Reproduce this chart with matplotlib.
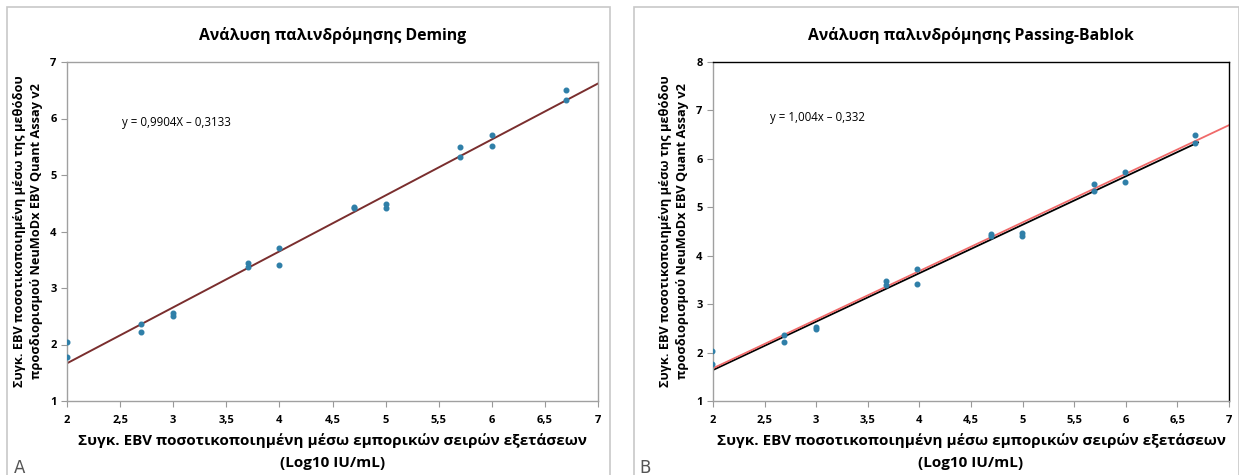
import matplotlib.pyplot as plt
import matplotlib.patches as mpatches
import numpy as np

plt.rcParams["font.family"] = ["Open Sans", "DejaVu Sans"]

# commercial assay (Log10 IU/mL) vs NeuMoDx, replicate pairs
x_a = [2.0, 2.0, 2.7, 2.7, 3.0, 3.0, 3.7, 3.7, 4.0, 4.0,
       4.7, 4.7, 5.0, 5.0, 5.7, 5.7, 6.0, 6.0, 6.7, 6.7]
y_a = [2.04, 1.77, 2.37, 2.22, 2.55, 2.50, 3.44, 3.38, 3.71, 3.40,
       4.44, 4.41, 4.48, 4.42, 5.49, 5.31, 5.71, 5.51, 6.50, 6.32]

x_b = [1.99, 1.99, 2.69, 2.69, 3.0, 3.0, 3.68, 3.68, 3.98, 3.98,
       4.69, 4.69, 4.99, 4.99, 5.69, 5.69, 5.99, 5.99, 6.67, 6.67]
y_b = [2.03, 1.77, 2.37, 2.22, 2.53, 2.49, 3.47, 3.40, 3.73, 3.42,
       4.44, 4.40, 4.47, 4.40, 5.49, 5.33, 5.72, 5.52, 6.50, 6.32]

deming = (0.9904, -0.3133)
pb = (1.004, -0.332)
ref_b = (1.0, -0.36)

x_ticks = [2, 2.5, 3, 3.5, 4, 4.5, 5, 5.5, 6, 6.5, 7]
x_ticklabels = ["2", "2,5", "3", "3,5", "4", "4,5", "5", "5,5", "6", "6,5", "7"]

ylabel = "Συγκ. EBV ποσοτικοποιημένη μέσω της μεθόδου\nπροσδιορισμού NeuMoDx EBV Quant Assay v2"
xlabel = "Συγκ. EBV ποσοτικοποιημένη μέσω εμπορικών σειρών εξετάσεων\n(Log10 IU/mL)"

fig = plt.figure(figsize=(12.39, 4.75), dpi=100)

# panel frames
for x0, w in [(0.006, 0.486), (0.512, 0.488)]:
    fig.patches.append(mpatches.Rectangle((x0, -0.01), w, 0.995, transform=fig.transFigure,
                                          fill=False, edgecolor="#c8c8c8", lw=1.2))

axA = fig.add_axes([67 / 1239, 1 - 401 / 475, (598 - 67) / 1239, (401 - 62) / 475])
axB = fig.add_axes([713 / 1239, 1 - 401 / 475, (1229 - 713) / 1239, (401 - 62) / 475])

pt_color = "#2f7fa8"

axA.scatter(x_a, y_a, s=11, color=pt_color, zorder=3)
xl = np.array([2, 7])
axA.plot(xl, deming[0] * xl + deming[1], color="#7a2e2e", lw=1.4, zorder=2)
axA.set_ylim(1, 7)
axA.set_yticks(range(1, 8))
axA.text(2.52, 5.93, "y = 0,9904X – 0,3133", fontsize=8.3, va="center")
axA.set_title("Ανάλυση παλινδρόμησης Deming", fontsize=11.3, fontweight="bold", pad=16)

axB.scatter(x_b, y_b, s=11, color=pt_color, zorder=3)
xr = np.array([2, 6.7])
axB.plot(xr, ref_b[0] * xr + ref_b[1], color="black", lw=1.3, zorder=2)
axB.plot(xl, pb[0] * xl + pb[1], color="#f06a6a", lw=1.3, zorder=2)
axB.set_ylim(1, 8)
axB.set_yticks(range(1, 9))
axB.text(2.55, 6.85, "y = 1,004x – 0,332", fontsize=8.3, va="center")
axB.set_title("Ανάλυση παλινδρόμησης Passing-Bablok", fontsize=11.3, fontweight="bold", pad=16)

for ax in (axA, axB):
    ax.set_xlim(2, 7)
    ax.set_xticks(x_ticks)
    ax.set_xticklabels(x_ticklabels)
    ax.tick_params(labelsize=8, color="#999999", length=4, direction="out")
    ax.tick_params(axis="x", pad=6)
    for lab in ax.get_xticklabels() + ax.get_yticklabels():
        lab.set_fontweight("bold")
    for s in ax.spines.values():
        s.set_color("#a0a0a0")
        s.set_linewidth(1)
    ax.set_ylabel(ylabel, fontsize=9.2, fontweight="bold", labelpad=5, linespacing=1.45)
    ax.set_xlabel(xlabel, fontsize=11, fontweight="bold", labelpad=5, linespacing=1.75)

axB.spines["top"].set_color("black")
axB.spines["right"].set_color("black")

fig.text(0.011, 0.005, "A", fontsize=12, color="#555555", family="DejaVu Sans")
fig.text(0.516, 0.005, "B", fontsize=12, color="#555555", family="DejaVu Sans")

fig.savefig("out.png", dpi=100)
